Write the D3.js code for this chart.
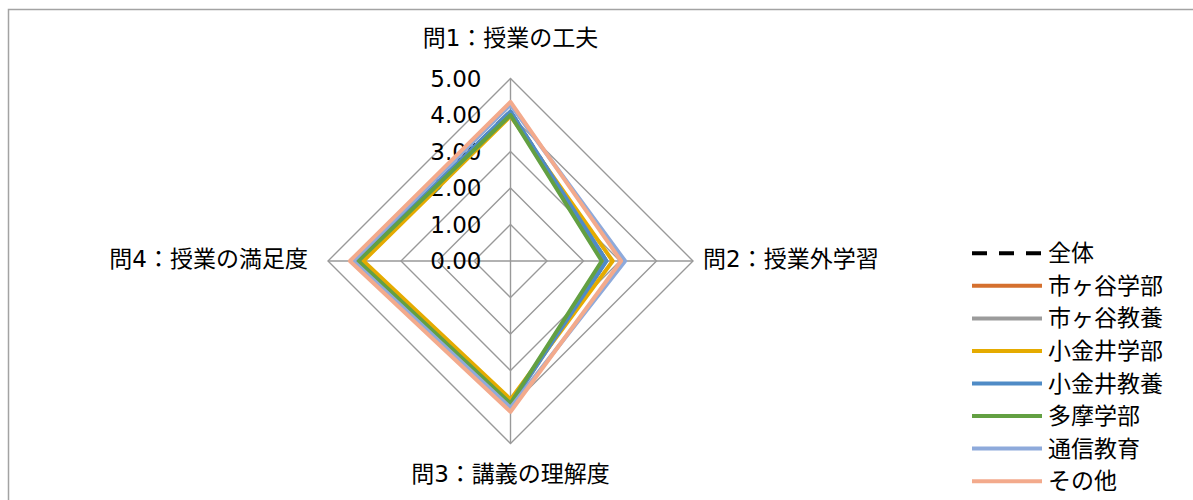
<!DOCTYPE html>
<html><head><meta charset="utf-8">
<script src="https://cdn.jsdelivr.net/npm/d3@7"></script>
<style>
html,body{margin:0;padding:0;background:#fff;}
svg{display:block;}
text{font-family:"DejaVu Sans","Noto Sans CJK JP",sans-serif;fill:#000;}
</style></head>
<body><svg id="c" width="1193" height="500"></svg>
<script>
const axes = ["問1：授業の工夫","問2：授業外学習","問3：講義の理解度","問4：授業の満足度"];
const ticks = [0,1,2,3,4,5];
const seriesNames = ["全体","市ヶ谷学部","市ヶ谷教養","小金井学部","小金井教養","多摩学部","通信教育","その他"];
const zentai      = [4.10,2.63,3.93,4.20];
const ichigayaGak = [4.05,2.58,3.92,4.17];
const ichigayaKyo = [4.08,2.62,3.95,4.19];
const koganeiGak  = [3.97,2.80,3.79,4.03];
const koganeiKyo  = [4.10,2.63,3.93,4.20];
const tamaGak     = [4.00,2.50,3.90,4.17];
const tsushin     = [4.28,3.14,4.02,4.31];
const sonota      = [4.36,3.03,4.13,4.40];
const seriesValues = [zentai,ichigayaGak,ichigayaKyo,koganeiGak,koganeiKyo,tamaGak,tsushin,sonota];
const colors = ["#000000","#d5702e","#9b9b9b","#e5ab00","#4f8bc6","#63a042","#8eaadb","#f3aa8c"];

const svg = d3.select("#c");
svg.append("rect").attr("x",8.5).attr("y",9.5).attr("width",1200).attr("height",500)
  .attr("fill","none").attr("stroke","#a3a3a3").attr("stroke-width",1.5);

const cx = 510.5, cy = 261;
const r = d3.scaleLinear().domain([0,5]).range([0,182.5]);
const ang = d3.scalePoint().domain(axes).range([0, 1.5*Math.PI]);
const g = svg.append("g").attr("transform",`translate(${cx},${cy})`);

// grid
const radial = d3.lineRadial().curve(d3.curveLinearClosed);
ticks.slice(1).forEach(t=>{
  g.append("path").attr("d", radial(axes.map(a=>[ang(a), r(t)])))
   .attr("fill","none").attr("stroke","#999").attr("stroke-width",1.4);
});
axes.forEach(a=>{
  const A = ang(a);
  g.append("line").attr("x1",0).attr("y1",0)
   .attr("x2", r(5)*Math.sin(A)).attr("y2", -r(5)*Math.cos(A))
   .attr("stroke","#999").attr("stroke-width",1.4);
});

// tick labels
g.selectAll(".tk").data(ticks).enter().append("text")
  .attr("x",-29).attr("y",d=>-r(d)).attr("text-anchor","end")
  .attr("dominant-baseline","central").attr("font-size",23)
  .text(d=>d3.format(".2f")(d));

// axis labels
const labPos = [
  {x:0, y:-r(5)-41, anchor:"middle"},
  {x:r(5)+10, y:-2, anchor:"start"},
  {x:0, y:r(5)+30, anchor:"middle"},
  {x:-r(5)-20, y:-2, anchor:"end"}
];
axes.forEach((a,i)=>{
  g.append("text").attr("x",labPos[i].x).attr("y",labPos[i].y)
   .attr("text-anchor",labPos[i].anchor).attr("dominant-baseline","central")
   .attr("font-size",23).text(a);
});

// series
seriesValues.forEach((vals,i)=>{
  g.append("path").attr("d", radial(vals.map((v,k)=>[ang(axes[k]), r(v)])))
   .attr("fill","none").attr("stroke",colors[i])
   .attr("stroke-width", i===0?3.5:4)
   .attr("stroke-dasharray", i===0?"15,12":null)
   .attr("stroke-linejoin","round");
});

// legend
const lg = svg.append("g");
seriesNames.forEach((n,i)=>{
  const y = 253.3 + i*32.55;
  lg.append("line").attr("x1",972).attr("x2",1042).attr("y1",y).attr("y2",y)
    .attr("stroke",colors[i]).attr("stroke-width",4)
    .attr("stroke-dasharray", i===0?"15,12":null);
  lg.append("text").attr("x",1048).attr("y",y).attr("dominant-baseline","central")
    .attr("font-size",23).text(n);
});
</script></body></html>
